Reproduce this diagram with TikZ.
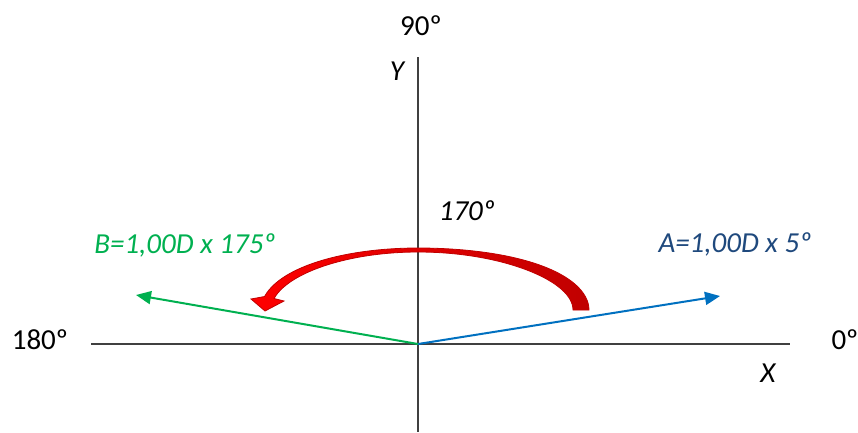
\documentclass[tikz,border=0pt]{standalone}
\usepackage{fontspec}
\setmainfont{Carlito}
\usepackage{tikz}
\usetikzlibrary{arrows.meta, positioning, calc}
\definecolor{ejegris}{HTML}{404040}
\definecolor{verdeB}{HTML}{00B050}
\definecolor{azulA}{HTML}{0070C0}
\definecolor{azultexto}{HTML}{1F497D}
\definecolor{rojoosc}{HTML}{C00000}

\begin{document}
\begin{tikzpicture}[
    x=1pt, y=-1pt,
    every node/.style={font=\fontsize{29}{34}\selectfont, inner sep=0pt, anchor=base},
    lbl/.style={font=\fontsize{29}{34}\selectfont\itshape},
    axis/.style={draw=ejegris, line width=2pt},
    vect/.style={line width=2pt, -{Triangle[length=15pt,width=13pt]}},
    giro/.style={draw=rojoosc, line width=0.8pt, left color=red, right color=rojoosc},
    declare function={rr(\t)=157.5+5.5*sign(cos(\t));
                      ww(\t)=4+12*pow(max(cos(\t),0),2)+6*pow(max(-cos(\t),0),2);}
]
\useasboundingbox (0,0) rectangle (858,432);

% Ejes
\coordinate (O)  at (418,344);
\coordinate (xl) at (91,344);
\coordinate (xr) at (790,344);
\coordinate (yt) at (418,57);
\coordinate (yb) at (418,432);
\draw[axis] (xl) -- (xr);
\draw[axis] (yt) -- (yb);

% Etiquetas de los ejes
\node (g90)  at (421,35)  {90º};
\node (g180) at (40,349)  {180º};
\node (g0)   at (845,349) {0º};
\node[lbl] (ejeY) at (397,80)  {Y};
\node[lbl] (ejeX) at (768,382) {X};

% Vectores
\coordinate (Atip) at (720,296);
\coordinate (Btip) at (136,295);
\draw[vect, azulA]  (O) -- (Atip);
\draw[vect, verdeB] (O) -- (Btip);
\node[lbl, text=azultexto] (labA) at (735,252) {A=1,00D x 5º};
\node[lbl, text=verdeB]    (labB) at (185,253) {B=1,00D x 175º};

% Flecha curva de giro
\shadedraw[giro]
    plot[domain=0:168, samples=60, smooth]
        ({418+(rr(\x)+ww(\x)/2)*cos(\x)}, {310-(60+ww(\x)/2)*sin(\x)})
    -- (251,299) -- (265,311) -- (284,301)
    -- plot[domain=168:0, samples=60, smooth]
        ({418+(rr(\x)-ww(\x)/2)*cos(\x)}, {310-(60-ww(\x)/2)*sin(\x)})
    -- cycle;
\node[lbl] (ang) at (467,220) {170º};

\end{tikzpicture}
\end{document}
